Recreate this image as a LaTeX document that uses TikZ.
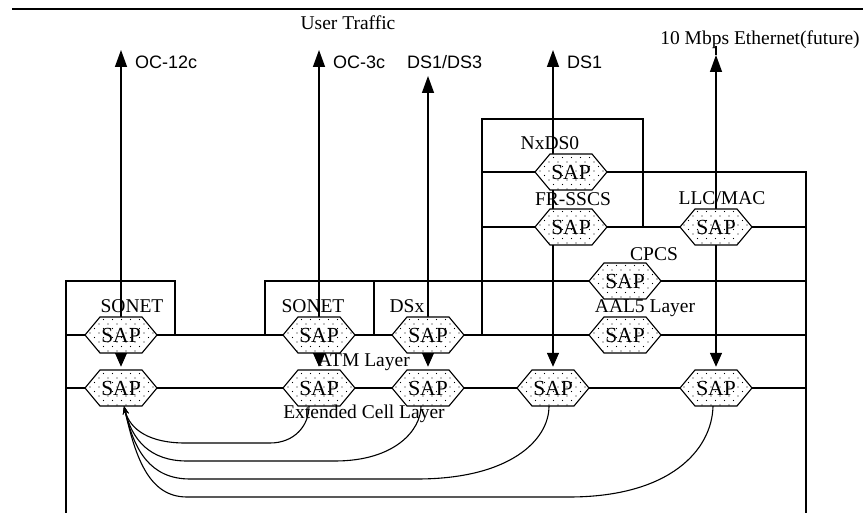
\documentclass[tikz,border=0pt]{standalone}
\usepackage{fontspec}
\setmainfont{Liberation Serif}
\newfontfamily\arrowfont{Liberation Sans}
\usetikzlibrary{arrows.meta,patterns.meta,calc}
\pgfdeclarelayer{bg}
\pgfsetlayers{bg,main}
\tikzdeclarepattern{
  name=sapdots,
  type=uncolored,
  bottom left={(-1pt,-1pt)},
  top right={(8pt,8pt)},
  tile size={(9pt,9pt)},
  code={\fill (0pt,0pt) circle [radius=0.7pt]; \fill (4.5pt,4.5pt) circle [radius=0.7pt];}
}
\newcommand\SAPhex[3]{%
  \draw[hexline] (#2,#3) ++(-36,0) -- ++(15,-18) -- ++(42,0) -- ++(15,18) -- ++(-15,18) -- ++(-42,0) -- cycle;
  \node[sapbox] (#1) at (#2,#3) {SAP};
}
\begin{document}
\begin{tikzpicture}[x=1pt,y=-1pt,
  lay/.style={line width=1.4pt},
  hexline/.style={line width=1.1pt, preaction={fill=white}, pattern=sapdots, pattern color=black},
  sapbox/.style={minimum width=42pt, minimum height=36pt, inner sep=0pt, font=\fontsize{21.5}{22}\selectfont},
  lbl/.style={inner sep=0pt, font=\fontsize{19.5}{20}\selectfont},
  albl/.style={inner sep=0pt, anchor=west, font=\arrowfont\fontsize{18}{20}\selectfont},
  biarrow/.style={line width=1.4pt, {Triangle[length=17pt,width=12pt]}-{Triangle[length=14pt,width=12pt]}, shorten >=3pt},
  curve/.style={line width=1.1pt, {Stealth[length=8pt,width=6pt]}-},
]
\useasboundingbox (0,0) rectangle (863,513);

% SAP hexagons
\SAPhex{U1}{121}{335}
\SAPhex{U2}{319}{335}
\SAPhex{U3}{428}{335}
\SAPhex{L1}{121}{388}
\SAPhex{L2}{319}{388}
\SAPhex{L3}{428}{388}
\SAPhex{L4}{553}{388}
\SAPhex{L5}{716}{388}
\SAPhex{N}{571}{172}
\SAPhex{F}{571}{227}
\SAPhex{M}{716}{227}
\SAPhex{C}{625}{281}
\SAPhex{A}{625}{335}

% labels
\node[lbl] (usr) at (348,23) {User Traffic};
\node[lbl] (eth) at (760,40) {10 Mbps Ethernet(future)};
\node[albl] (oc12) at (135,62) {OC-12c};
\node[albl] (oc3) at (333,62) {OC-3c};
\node[albl] (ds13) at (407,62) {DS1/DS3};
\node[albl] (ds1) at (567,62) {DS1};
\node[lbl] (son1) at (132,306) {SONET};
\node[lbl] (son2) at (313,306) {SONET};
\node[lbl] (dsx) at (407,306) {DSx};
\node[lbl] (nxds0) at (550,143) {NxDS0};
\node[lbl] (frsscs) at (573,199) {FR-SSCS};
\node[lbl] (llc) at (722,198) {LLC/MAC};
\node[lbl] (cpcs) at (654,254) {CPCS};
\node[lbl] (aal5) at (645,308) {AAL5 Layer};
\node[lbl] (atm) at (364,362) {ATM Layer};
\node[lbl] (ecl) at (364,414) {Extended Cell Layer};

\coordinate (t1) at (121,50);
\coordinate (t2) at (319,50);
\coordinate (t3) at (428,76);
\coordinate (t4) at (553,50);
\coordinate (t5) at (716,55);
\coordinate (etop) at (716,46);

\begin{pgfonlayer}{bg}
  \draw[line width=2pt] (12,9) -- (863,9);
  \draw[lay] (66,513) -- (66,281) -- (175,281) -- (175,335);
  \draw[lay] (66,335) -- (806,335);
  \draw[lay] (66,388) -- (806,388);
  \draw[lay] (265,335) -- (265,281) -- (806,281);
  \draw[lay] (374,281) -- (374,335);
  \draw[lay] (482,335) -- (482,119) -- (643,119) -- (643,227);
  \draw[lay] (482,172) -- (806,172) -- (806,513);
  \draw[lay] (482,227) -- (806,227);

  \draw[biarrow] (t1) -- (L1.north);
  \draw[biarrow] (t2) -- (L2.north);
  \draw[biarrow] (t3) -- (L3.north);
  \draw[biarrow] (t4) -- (L4.north);
  \draw[biarrow] (t5) -- (L5.north);
  \draw[lay] (t5) -- (etop);
\end{pgfonlayer}

% curves from the left extended-cell SAP
\draw[curve] ([xshift=3pt]L1.south) .. controls (130,430) and (150,443) .. (185,443) -- (270,443) .. controls (295,443) and (309,425) .. ([xshift=-10pt]L2.south);
\draw[curve] ([xshift=3pt]L1.south) .. controls (132,440) and (150,461) .. (187,461) -- (335,461) .. controls (395,461) and (421,430) .. ([xshift=-7pt]L3.south);
\draw[curve] ([xshift=3pt]L1.south) .. controls (134,450) and (150,479) .. (190,479) -- (417,479) .. controls (510,479) and (549,440) .. ([xshift=-4pt]L4.south);
\draw[curve] ([xshift=3pt]L1.south) .. controls (136,460) and (150,497) .. (187,497) -- (569,497) .. controls (670,497) and (712,450) .. ([xshift=-3pt]L5.south);
\end{tikzpicture}
\end{document}
